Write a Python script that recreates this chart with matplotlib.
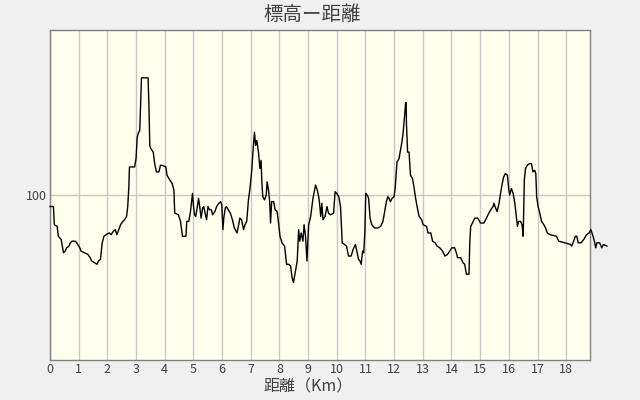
import matplotlib
matplotlib.use("Agg")
import matplotlib.pyplot as plt

plt.rcParams['font.family'] = ['Noto Sans CJK JP', 'DejaVu Sans']

title = "標高ー距離"
xlabel = "距離（Km）"
xticks = list(range(0, 19))
yticks = [100]

# distance (km) and elevation
dist = [0.00, 0.12, 0.15, 0.25, 0.29, 0.39, 0.47, 0.53, 0.58, 0.66,
        0.71, 0.77, 0.89, 0.97, 1.04, 1.08, 1.20, 1.32, 1.40, 1.45,
        1.55, 1.64, 1.69, 1.76, 1.82, 1.88, 1.96, 2.07, 2.13, 2.21,
        2.28, 2.33, 2.40, 2.46, 2.54, 2.60, 2.67, 2.71, 2.75, 2.77,
        2.95, 3.00, 3.04, 3.09, 3.13, 3.16, 3.19, 3.42, 3.45, 3.48,
        3.52, 3.60, 3.65, 3.71, 3.80, 3.85, 3.91, 4.04, 4.08, 4.18,
        4.26, 4.32, 4.35, 4.48, 4.55, 4.62, 4.74, 4.77, 4.84, 4.90,
        4.93, 4.97, 5.00, 5.04, 5.08, 5.13, 5.18, 5.22, 5.27, 5.32,
        5.36, 5.41, 5.46, 5.51, 5.57, 5.63, 5.67, 5.75, 5.81, 5.89,
        5.95, 5.99, 6.03, 6.06, 6.11, 6.15, 6.22, 6.29, 6.36, 6.43,
        6.52, 6.58, 6.62, 6.68, 6.75, 6.80, 6.86, 6.92, 6.98, 7.04,
        7.08, 7.13, 7.17, 7.21, 7.27, 7.32, 7.36, 7.39, 7.42, 7.48,
        7.54, 7.57, 7.62, 7.66, 7.69, 7.73, 7.80, 7.85, 7.92, 7.97,
        8.02, 8.09, 8.18, 8.25, 8.32, 8.39, 8.44, 8.49, 8.55, 8.62,
        8.67, 8.71, 8.76, 8.82, 8.86, 8.91, 8.96, 9.02, 9.09, 9.17,
        9.26, 9.32, 9.38, 9.41, 9.44, 9.48, 9.52, 9.59, 9.66, 9.71,
        9.78, 9.89, 9.94, 10.00, 10.07, 10.13, 10.19, 10.27, 10.34, 10.41,
        10.50, 10.57, 10.65, 10.71, 10.76, 10.81, 10.85, 10.90, 10.94, 10.98,
        11.01, 11.06, 11.11, 11.16, 11.22, 11.32, 11.43, 11.53, 11.61, 11.67,
        11.73, 11.78, 11.82, 11.87, 11.93, 12.00, 12.04, 12.10, 12.17, 12.22,
        12.27, 12.31, 12.36, 12.40, 12.42, 12.43, 12.47, 12.52, 12.57, 12.64,
        12.69, 12.75, 12.80, 12.87, 12.96, 13.01, 13.13, 13.18, 13.28, 13.34,
        13.43, 13.50, 13.59, 13.69, 13.77, 13.86, 13.94, 14.01, 14.11, 14.17,
        14.21, 14.32, 14.40, 14.46, 14.52, 14.61, 14.64, 14.67, 14.73, 14.81,
        14.91, 14.95, 15.01, 15.13, 15.22, 15.30, 15.37, 15.45, 15.48, 15.54,
        15.59, 15.66, 15.71, 15.77, 15.82, 15.88, 15.95, 16.00, 16.03, 16.09,
        16.15, 16.21, 16.25, 16.30, 16.34, 16.41, 16.46, 16.50, 16.54, 16.58,
        16.64, 16.72, 16.79, 16.84, 16.90, 16.94, 16.97, 17.02, 17.08, 17.14,
        17.22, 17.28, 17.34, 17.43, 17.66, 17.74, 17.96, 18.15, 18.19, 18.26,
        18.32, 18.37, 18.42, 18.52, 18.61, 18.71, 18.80, 18.86, 18.90, 18.97,
        19.03, 19.07, 19.17, 19.24, 19.30, 19.42]

elev = [93, 93, 82, 81, 75, 73, 65, 66, 68, 69,
        71, 72, 72, 70, 68, 66, 65, 64, 62, 60,
        59, 58, 60, 61, 71, 75, 76, 77, 76, 78,
        79, 76, 79, 82, 84, 85, 87, 93, 105, 117,
        117, 122, 135, 138, 139, 156, 171, 171, 154, 130,
        128, 126, 119, 114, 114, 118, 118, 117, 112, 109,
        107, 103, 89, 88, 84, 75, 75, 84, 84, 90,
        95, 101, 94, 88, 87, 92, 98, 93, 86, 92,
        93, 89, 85, 93, 91, 91, 88, 90, 93, 95,
        96, 94, 79, 86, 92, 93, 91, 89, 85, 80,
        77, 82, 86, 85, 79, 82, 84, 97, 105, 116,
        127, 138, 130, 133, 126, 116, 121, 107, 99, 97,
        100, 108, 103, 96, 83, 96, 96, 91, 90, 83,
        75, 71, 69, 58, 58, 57, 50, 47, 53, 60,
        79, 72, 77, 72, 82, 75, 60, 82, 87, 98,
        106, 103, 98, 93, 87, 95, 85, 87, 93, 89,
        88, 89, 102, 101, 99, 93, 71, 70, 69, 63,
        63, 67, 70, 65, 61, 60, 58, 66, 65, 78,
        101, 100, 98, 86, 82, 80, 80, 81, 84, 90,
        96, 99, 98, 96, 98, 99, 105, 120, 122, 127,
        132, 137, 147, 156, 156, 143, 126, 126, 112, 110,
        105, 98, 93, 87, 85, 82, 81, 77, 77, 72,
        71, 69, 68, 66, 63, 64, 66, 68, 68, 65,
        62, 62, 59, 58, 52, 52, 72, 81, 83, 86,
        86, 85, 83, 83, 86, 89, 91, 93, 95, 92,
        90, 95, 101, 107, 111, 113, 112, 103, 100, 104,
        101, 95, 89, 81, 84, 84, 82, 75, 109, 116,
        118, 119, 119, 114, 115, 113, 99, 93, 89, 84,
        82, 80, 77, 76, 75, 72, 71, 70, 69, 72,
        75, 75, 71, 71, 73, 76, 77, 79, 77, 73,
        68, 71, 71, 68, 70, 69]

fig = plt.figure(figsize=(6.4, 4.0), dpi=100, facecolor='#f0f0f0')
ax = fig.add_axes([50 / 640, 40 / 400, 540 / 640, 330 / 400])
ax.set_facecolor('#ffffee')

ax.plot(dist, elev, color='black', linewidth=1.0, clip_on=False, zorder=3)

ax.set_xlim(0, 18.83)
ax.set_ylim(0, 200)
ax.set_xticks(xticks)
ax.set_yticks(yticks)
ax.tick_params(length=0, labelsize=9, colors='#404040', pad=2)
ax.grid(True, color='#c8c8c8', linewidth=1.0)
ax.set_axisbelow(True)
for s in ax.spines.values():
    s.set_color('#808080')
    s.set_linewidth(1.0)

fig.text(308 / 640, 1 - 387 / 400, xlabel, ha='center', va='center',
         fontsize=11.5, color='#404040')
fig.text(312 / 640, 1 - 14 / 400, title, ha='center', va='center',
         fontsize=14, color='#404040')

fig.savefig("out.png", dpi=100, facecolor=fig.get_facecolor())
